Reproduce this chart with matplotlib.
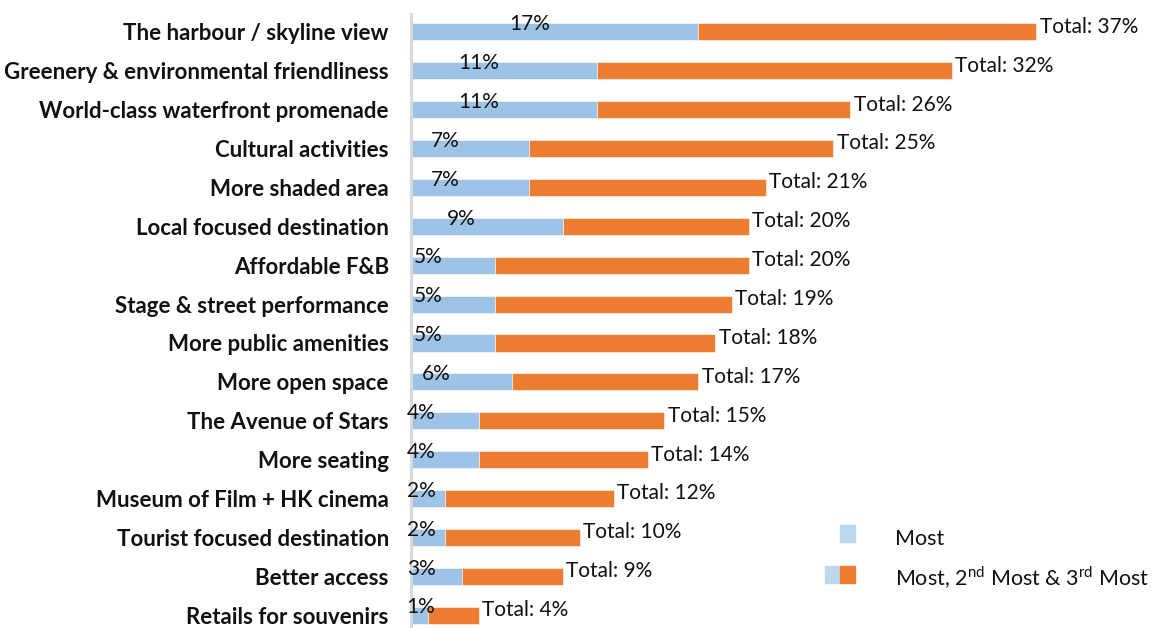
import matplotlib.pyplot as plt
from matplotlib.patches import Rectangle

plt.rcParams['font.family'] = ['Lato', 'DejaVu Sans']
plt.rcParams['mathtext.fontset'] = 'custom'
plt.rcParams['mathtext.rm'] = 'Lato'

# data
categories = [
    "The harbour / skyline view",
    "Greenery & environmental friendliness",
    "World-class waterfront promenade",
    "Cultural activities",
    "More shaded area",
    "Local focused destination",
    "Affordable F&B",
    "Stage & street performance",
    "More public amenities",
    "More open space",
    "The Avenue of Stars",
    "More seating",
    "Museum of Film + HK cinema",
    "Tourist focused destination",
    "Better access",
    "Retails for souvenirs",
]
most = [17, 11, 11, 7, 7, 9, 5, 5, 5, 6, 4, 4, 2, 2, 3, 1]
total = [37, 32, 26, 25, 21, 20, 20, 19, 18, 17, 15, 14, 12, 10, 9, 4]

blue = '#9DC3E6'
orange = '#ED7D31'
txt = '#111111'

fig = plt.figure(figsize=(11.6, 6.28), dpi=100)
ax = fig.add_axes([0.3543, 0.0, 0.641, 0.9777])

y = list(range(len(categories)))
rest = [t - m for t, m in zip(total, most)]
ax.barh(y, most, height=0.44, color=blue, edgecolor='white', linewidth=0.4)
ax.barh(y, rest, left=most, height=0.44, color=orange, edgecolor='white', linewidth=0.4)

for i, (m, t) in enumerate(zip(most, total)):
    lx = max((m - 3) / 2, 0.6)
    ax.text(lx, i - 0.2, f"{m}%", ha='center', va='center', fontsize=15, color=txt)
    ax.text(t + 0.2, i - 0.13, f"Total: {t}%", ha='left', va='center', fontsize=15, color=txt)

ax.set_xlim(0, 44)
ax.set_ylim(15.33, -0.46)
ax.set_yticks(y)
ax.set_yticklabels(categories, fontsize=16, fontweight='bold', color=txt)
ax.tick_params(axis='y', length=0, pad=16)
ax.set_xticks([])
for s in ['top', 'right', 'bottom']:
    ax.spines[s].set_visible(False)
ax.spines['left'].set_color('#D9D9D9')
ax.spines['left'].set_linewidth(2.2)

# legend drawn by hand
W, H = 1160, 628
def px_rect(x0, y0, w, h, c):
    fig.patches.append(Rectangle((x0 / W, 1 - (y0 + h) / H), w / W, h / H,
                                 transform=fig.transFigure, color=c, zorder=5))

px_rect(840, 525, 15, 17, '#BDD7EE')
px_rect(825, 566, 15, 17, '#BDD7EE')
px_rect(840, 566, 15, 17, orange)
fig.text(895 / W, 1 - 539 / H, "Most", fontsize=15.5, va='center', ha='left', color=txt)
fig.text(895 / W, 1 - 578 / H, r"Most, 2$^{\mathrm{nd}}$ Most & 3$^{\mathrm{rd}}$ Most",
         fontsize=15.5, va='center', ha='left', color=txt)

fig.savefig('out.png', dpi=100)
